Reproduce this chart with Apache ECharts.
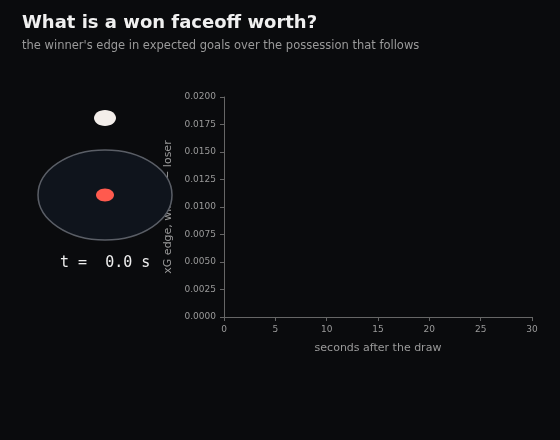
<!DOCTYPE html>
<html><head><meta charset="utf-8">
<script src="https://cdn.jsdelivr.net/npm/echarts@6/dist/echarts.min.js"></script>
<style>html,body{margin:0;padding:0;background:#0a0b0d}#c{width:560px;height:440px}</style>
</head><body><div id="c"></div>
<script>
const xTicks = [0, 5, 10, 15, 20, 25, 30];
const yRange = [0, 0.02];
const edgeSeries = []; // no points drawn yet at t = 0
const timeLabel = 't =  0.0 s';
const chart = echarts.init(document.getElementById('c'));
chart.setOption({
  backgroundColor: '#0a0b0d',
  animation: false,
  title: {
    text: 'What is a won faceoff worth?',
    subtext: "the winner's edge in expected goals over the possession that follows",
    left: 17, top: 9, itemGap: 8,
    textStyle: {color: '#f0f0f0', fontSize: 18, fontWeight: 'bold', fontFamily: 'DejaVu Sans'},
    subtextStyle: {color: '#9a9a9a', fontSize: 11.5, fontFamily: 'DejaVu Sans'}
  },
  grid: {left: 224, right: 28, top: 97, bottom: 123},
  xAxis: {
    type: 'value', min: xTicks[0], max: xTicks[xTicks.length-1], interval: 5,
    name: 'seconds after the draw', nameLocation: 'middle', nameGap: 26,
    nameTextStyle: {color: '#9a9a9a', fontSize: 11, fontFamily: 'DejaVu Sans'},
    axisLine: {lineStyle: {color: '#666'}}, axisTick: {lineStyle: {color: '#666'}, length: 4},
    axisLabel: {color: '#9a9a9a', fontSize: 9, fontFamily: 'DejaVu Sans'},
    splitLine: {show: false}
  },
  yAxis: {
    type: 'value', min: yRange[0], max: yRange[1], interval: 0.0025,
    name: 'xG edge, winner − loser', nameLocation: 'middle', nameGap: 47,
    nameTextStyle: {color: '#9a9a9a', fontSize: 11, fontFamily: 'DejaVu Sans'},
    axisLine: {show: true, lineStyle: {color: '#666'}}, axisTick: {show: true, lineStyle: {color: '#666'}, length: 4},
    axisLabel: {color: '#9a9a9a', fontSize: 9, fontFamily: 'DejaVu Sans', formatter: v => v.toFixed(4)},
    splitLine: {show: false}
  },
  series: [{type: 'line', data: edgeSeries, showSymbol: false, lineStyle: {color: '#ff5a4e'}}],
  graphic: [
    {type: 'ellipse', shape: {cx: 105, cy: 195, rx: 67, ry: 45}, style: {fill: '#0f141c', stroke: '#5a5e66', lineWidth: 1.5}, z: 1},
    {type: 'ellipse', shape: {cx: 105, cy: 195, rx: 9, ry: 6.5}, style: {fill: '#ff5a4e'}, z: 2},
    {type: 'ellipse', shape: {cx: 105, cy: 118, rx: 11, ry: 8}, style: {fill: '#f3eeea'}, z: 2},
    {type: 'text', left: 60, top: 256, style: {text: timeLabel, fill: '#eeeeee', fontSize: 15, fontFamily: 'DejaVu Sans Mono'}, z: 3}
  ]
});
</script></body></html>
